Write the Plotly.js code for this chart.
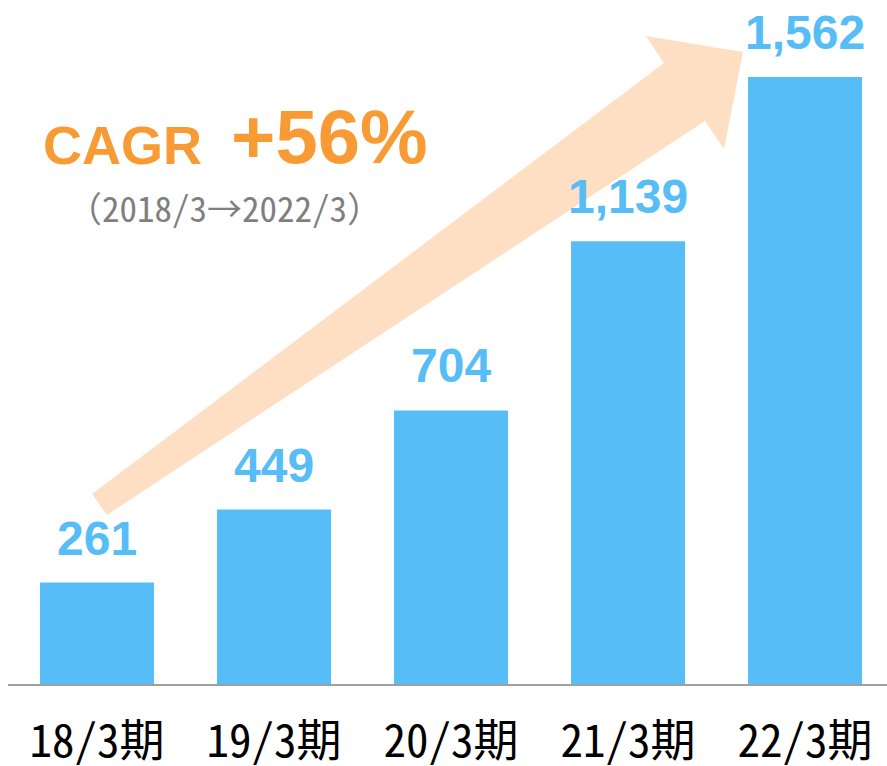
<!DOCTYPE html>
<html>
<head>
<meta charset="utf-8">
<script src="https://cdn.plot.ly/plotly-3.0.1.min.js"></script>
<style>html,body{margin:0;padding:0;background:#fff;}#chart{width:887px;height:766px;}</style>
</head>
<body>
<div id="chart"></div>
<script>
// ---- data ----
const categories = ["18/3期", "19/3期", "20/3期", "21/3期", "22/3期"];
const values = [261, 449, 704, 1139, 1562];
const valueLabels = ["261", "449", "704", "1,139", "1,562"];
const cagrLabel = "CAGR";
const cagrValue = "+56%";
const cagrPeriod = "（2018/3→2022/3）";

// ---- geometry helpers (page pixels -> paper coords) ----
const W = 887, H = 766;
const M = {l: 8, r: 0, t: 0, b: 82};
const PW = W - M.l - M.r, PH = H - M.t - M.b;
const px = x => (x - M.l) / PW;
const py = y => 1 - (y - M.t) / PH;

const BLUE = "#57BDF7";
const ORANGE = "#F99B35";
const PEACH = "#FEDFC3";
const JP = "'Noto Sans Mono CJK JP', 'Noto Sans CJK JP', sans-serif";
const SANS = "'Liberation Sans', Arial, sans-serif";

// arrow outline (decoration) in page pixels
const arrowPts = [[92,494],[664,63],[646,36],[743,52],[724,149],[705,121],[107,515]];
const arrowPath = "M " + arrowPts.map(p => px(p[0]).toFixed(4) + "," + py(p[1]).toFixed(4)).join(" L ") + " Z";

const trace = {
  type: "bar",
  x: categories,
  y: values,
  marker: {color: BLUE, line: {width: 0}},
  width: 0.644,
  hoverinfo: "none"
};

const annotations = categories.map((c, i) => ({
  x: c, y: values[i], xref: "x", yref: "y",
  text: "<b>" + valueLabels[i] + "</b>",
  showarrow: false, yanchor: "bottom", xanchor: "center", yshift: 16,
  font: {family: SANS, size: 48, color: BLUE}
}));

annotations.push({
  x: px(41), y: py(145), xref: "paper", yref: "paper",
  text: "<b>" + cagrLabel + "</b>", showarrow: false, xanchor: "left", yanchor: "middle",
  font: {family: SANS, size: 54, color: ORANGE}
});
annotations.push({
  x: px(229), y: py(136), xref: "paper", yref: "paper",
  text: "<b>" + cagrValue + "</b>", showarrow: false, xanchor: "left", yanchor: "middle",
  font: {family: SANS, size: 76, color: ORANGE}
});
annotations.push({
  x: px(224), y: py(206), xref: "paper", yref: "paper",
  text: cagrPeriod, showarrow: false, xanchor: "center", yanchor: "middle",
  font: {family: JP, size: 35, color: "#7F7F7F"}
});

const layout = {
  width: W, height: H,
  margin: M,
  paper_bgcolor: "#fff", plot_bgcolor: "#fff",
  showlegend: false,
  xaxis: {
    type: "category",
    range: [-0.503, 4.463],
    showgrid: false, zeroline: false,
    showline: true, linecolor: "#A0A0A0", linewidth: 2,
    ticks: "",
    tickfont: {family: JP, size: 45, color: "#000"},
    ticklabelstandoff: 17,
    fixedrange: true
  },
  yaxis: {
    range: [0, 1760],
    showgrid: false, zeroline: false, showline: false,
    showticklabels: false, ticks: "",
    fixedrange: true
  },
  shapes: [{
    type: "path", xref: "paper", yref: "paper", path: arrowPath,
    fillcolor: PEACH, line: {width: 0}, layer: "below"
  }],
  annotations: annotations
};

Plotly.newPlot("chart", [trace], layout, {displayModeBar: false, staticPlot: true});
</script>
</body>
</html>
